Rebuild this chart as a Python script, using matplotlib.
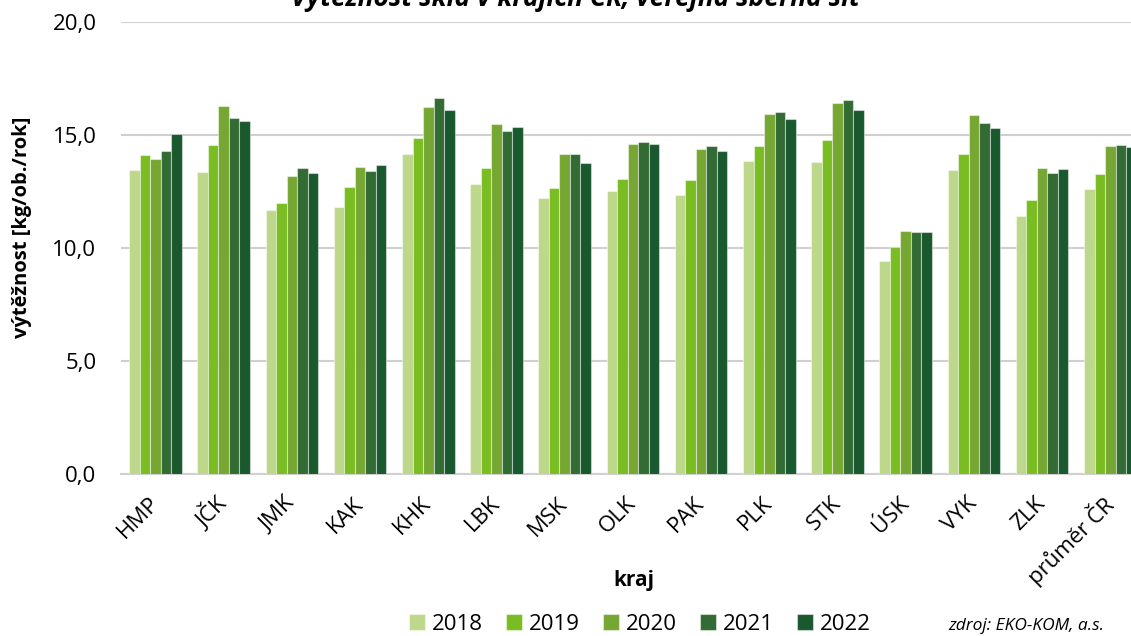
import numpy as np
import matplotlib
matplotlib.use('Agg')
import matplotlib.pyplot as plt
from matplotlib.ticker import FuncFormatter

plt.rcParams['font.family'] = ['Open Sans', 'DejaVu Sans']

kraje = ['HMP', 'JČK', 'JMK', 'KAK', 'KHK', 'LBK', 'MSK', 'OLK', 'PAK',
         'PLK', 'STK', 'ÚSK', 'VYK', 'ZLK', 'průměr ČR']
roky = ['2018', '2019', '2020', '2021', '2022']

v2018 = [13.45, 13.35, 11.68, 11.80, 14.16, 12.82, 12.23, 12.52, 12.33, 13.86, 13.82, 9.44, 13.45, 11.42, 12.62]
v2019 = [14.10, 14.57, 11.98, 12.69, 14.88, 13.54, 12.67, 13.05, 13.02, 14.51, 14.76, 10.04, 14.16, 12.12, 13.27]
v2020 = [13.92, 16.30, 13.17, 13.58, 16.22, 15.47, 14.15, 14.62, 14.38, 15.93, 16.40, 10.74, 15.87, 13.54, 14.50]
v2021 = [14.29, 15.77, 13.54, 13.41, 16.64, 15.16, 14.15, 14.69, 14.51, 16.02, 16.55, 10.70, 15.52, 13.32, 14.56]
v2022 = [15.03, 15.60, 13.30, 13.69, 16.09, 15.37, 13.76, 14.62, 14.30, 15.72, 16.10, 10.72, 15.30, 13.51, 14.48]

barvy = ['#BDD88A', '#7ABD22', '#77A733', '#336B34', '#1A582E']

fig = plt.figure(figsize=(11.31, 6.36), dpi=100)
ax = fig.add_axes([121.4 / 1131, 162 / 636, 1023 / 1131, 452 / 636])

x = np.arange(len(kraje))
w = 0.154
for i, (rok, data) in enumerate(zip(roky, [v2018, v2019, v2020, v2021, v2022])):
    ax.bar(x + (i - 2) * w, data, width=w, color=barvy[i], label=rok,
           edgecolor=(1, 1, 1, 0.45), linewidth=0.8, zorder=3)

ax.set_xlim(-0.5, len(kraje) - 0.5)
ax.set_ylim(0, 20)
ax.set_yticks([0, 5, 10, 15, 20])
ax.yaxis.set_major_formatter(FuncFormatter(lambda v, p: f'{v:.1f}'.replace('.', ',')))
ax.tick_params(axis='y', length=0, pad=18, labelsize=16)
ax.tick_params(axis='x', length=0, pad=19, labelsize=16)
ax.set_xticks(x)
ax.set_xticklabels(kraje, rotation=45, ha='right', va='center', rotation_mode='anchor')

ax.grid(axis='y', color='#d0d0d0', linewidth=1.5, zorder=0)
ax.set_axisbelow(True)
for s in ['top', 'right', 'left']:
    ax.spines[s].set_visible(False)
ax.spines['bottom'].set_color('#d0d0d0')
ax.spines['bottom'].set_linewidth(1.5)

ax.set_ylabel('výtěžnost [kg/ob./rok]', fontsize=14.5, fontweight='bold')
ax.yaxis.set_label_coords(-0.087, 0.546)
ax.set_xlabel('kraj', fontsize=15, fontweight='bold')
ax.xaxis.set_label_coords(0.501, -0.212)

fig.text(575 / 1131, 1 - 6 / 636, 'Výtěžnost skla v krajích ČR, veřejná sběrná síť',
         ha='center', va='baseline', fontsize=19, fontweight='bold', style='italic')

fig.legend(loc='center', bbox_to_anchor=(640 / 1131, 1 - 624 / 636), ncol=5,
           frameon=False, fontsize=16, handlelength=0.72, handleheight=0.72,
           handletextpad=0.3, columnspacing=1.05)

fig.text(948 / 1131, 1 - 626 / 636, 'zdroj: EKO-KOM, a.s.', ha='left', va='center',
         fontsize=12.5, style='italic')

plt.savefig('out.png', dpi=100)
